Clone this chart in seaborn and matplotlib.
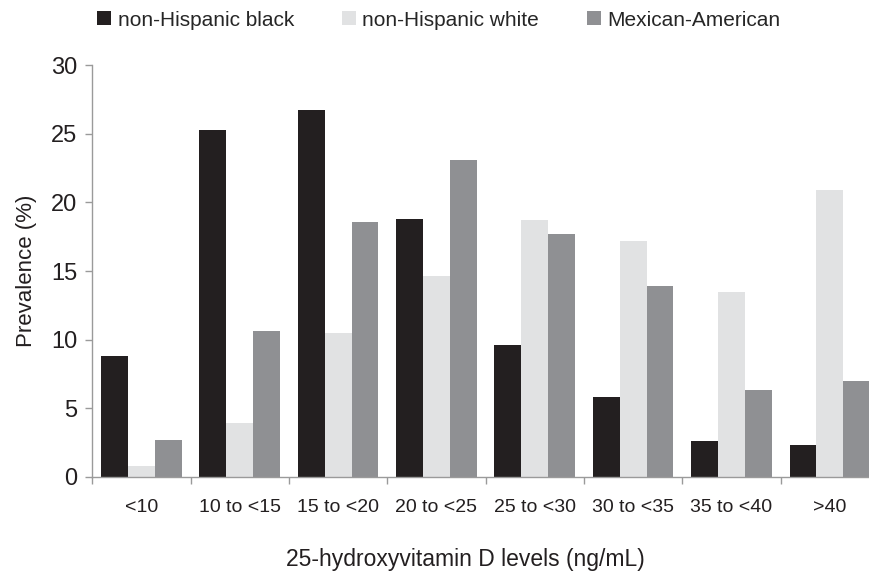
import matplotlib
matplotlib.use('Agg')
import matplotlib.pyplot as plt
import seaborn as sns
import pandas as pd

levels = ['<10', '10 to <15', '15 to <20', '20 to <25',
          '25 to <30', '30 to <35', '35 to <40', '>40']
groups = ['non-Hispanic black', 'non-Hispanic white', 'Mexican-American']

black = [8.8, 25.3, 26.7, 18.8, 9.6, 5.8, 2.6, 2.3]
white = [0.8, 3.9, 10.5, 14.6, 18.7, 17.2, 13.5, 20.9]
mexican = [2.7, 10.6, 18.6, 23.1, 17.7, 13.9, 6.3, 7.0]

colors = ['#231f20', '#e1e2e3', '#8f9093']

df = pd.DataFrame({
    'level': levels * 3,
    'group': [g for g in groups for _ in levels],
    'prevalence': black + white + mexican,
})

sns.set_theme(style='white')
plt.rcParams['font.family'] = ['Liberation Sans', 'DejaVu Sans']

fig = plt.figure(figsize=(8.69, 5.80), dpi=100)
ax = fig.add_axes([0.1062, 0.1776, 0.9053, 0.7103])

sns.barplot(data=df, x='level', y='prevalence', hue='group', order=levels,
            hue_order=groups, palette=colors, saturation=1, width=0.82,
            gap=0, errorbar=None, linewidth=0, ax=ax)

ax.set_ylim(0, 30)
ax.set_xlim(-0.5, 7.5)
ax.set_yticks(range(0, 31, 5))
ax.tick_params(axis='y', labelsize=17, length=5, width=1, color='#9a9a9a',
               direction='out', left=True, pad=6, labelcolor='#231f20')
ax.set_xticks(range(len(levels)))
ax.set_xticklabels(levels)
ax.set_xticks([i + 0.5 for i in range(-1, len(levels))], minor=True)
ax.tick_params(axis='x', which='major', length=0, labelsize=14, pad=16,
               labelcolor='#231f20')
ax.tick_params(axis='x', which='minor', length=5, width=1, color='#9a9a9a',
               direction='out', bottom=True)

for s in ['top', 'right']:
    ax.spines[s].set_visible(False)
for s in ['left', 'bottom']:
    ax.spines[s].set_color('#9a9a9a')
    ax.spines[s].set_linewidth(1)

ax.set_ylabel('Prevalence (%)', fontsize=16, color='#231f20', labelpad=10)
ax.set_xlabel('')
fig.text(0.536, 0.024, '25-hydroxyvitamin D levels (ng/mL)', fontsize=16.5,
         color='#231f20', ha='center', va='baseline')

handles, labels = ax.get_legend_handles_labels()
ax.get_legend().remove()
fig.legend(handles, labels, loc='center', bbox_to_anchor=(0.505, 0.9655),
           ncol=3, frameon=False, fontsize=15, handlelength=0.68,
           handleheight=0.68, handletextpad=0.3, columnspacing=2.3)

fig.savefig('out.png', dpi=100)
